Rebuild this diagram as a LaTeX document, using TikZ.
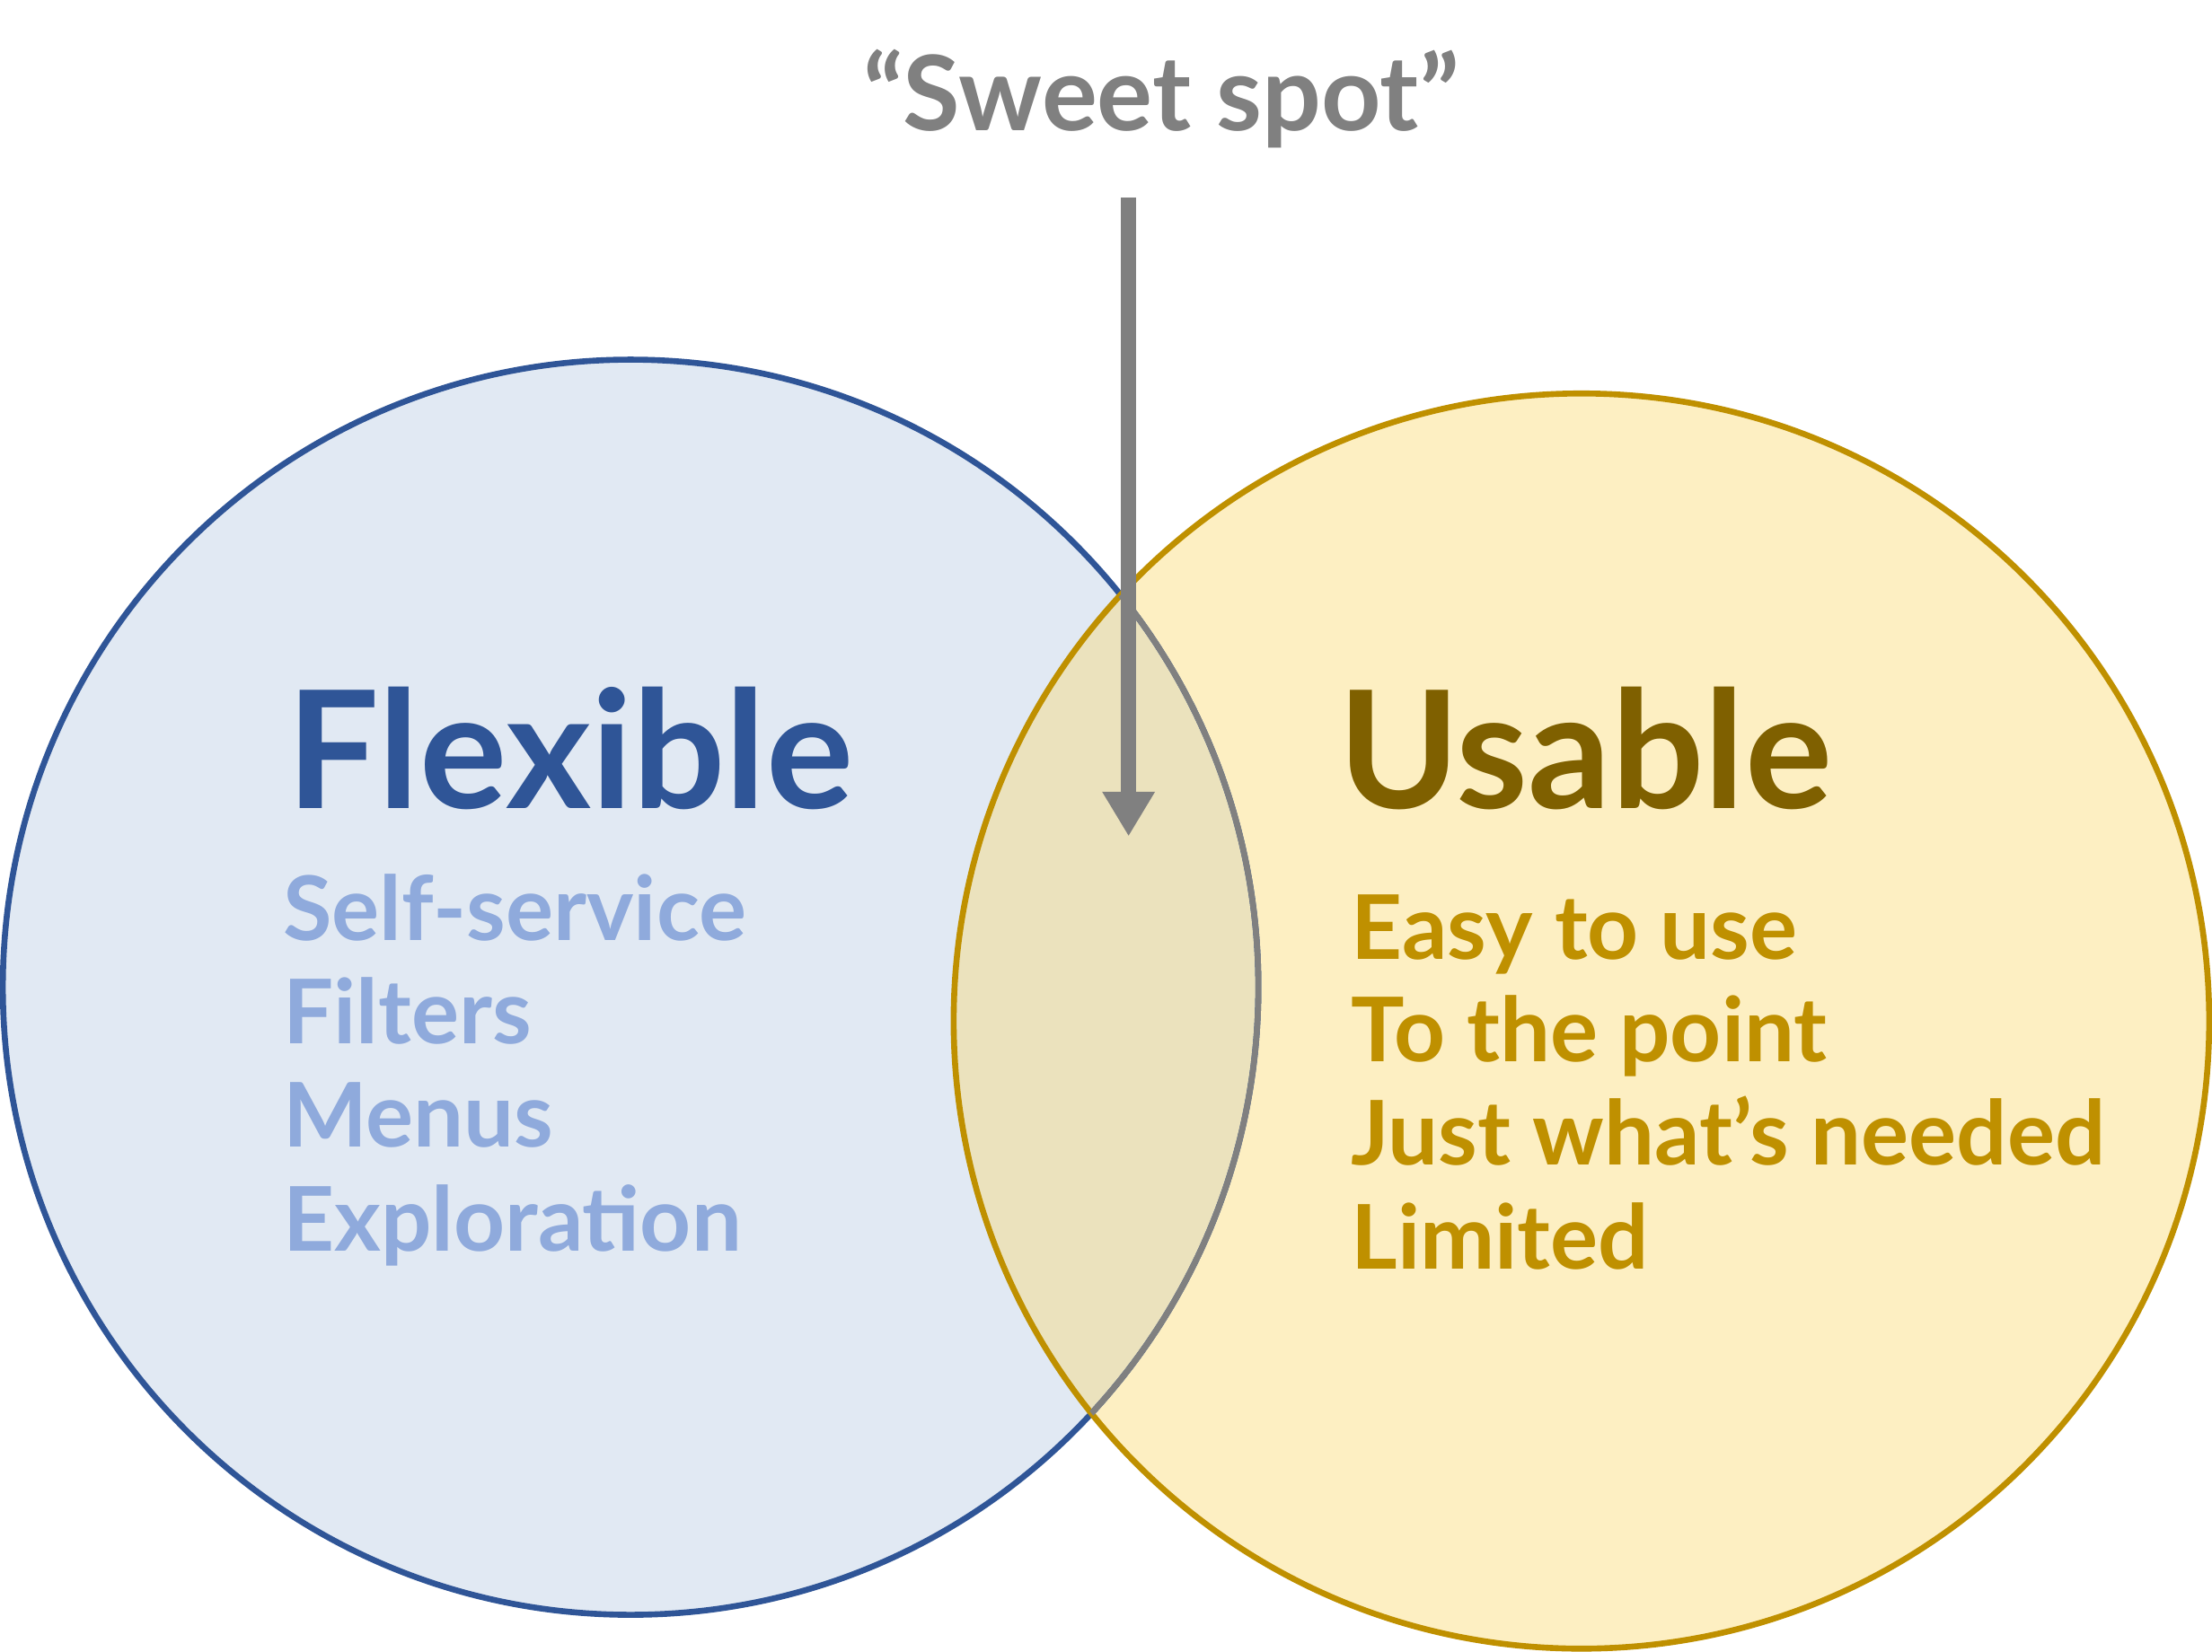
\documentclass[tikz,border=0pt]{standalone}
\usepackage{fontspec}
\setmainfont{Lato}
\usetikzlibrary{arrows.meta}
\definecolor{flexblue}{HTML}{2F5597}
\definecolor{flexlight}{HTML}{8FAADC}
\definecolor{flexfill}{HTML}{E1E9F3}
\definecolor{usedark}{HTML}{7F6000}
\definecolor{usegold}{HTML}{BF9000}
\definecolor{usefill}{HTML}{FDEFC2}
\definecolor{lensfill}{HTML}{EBE2BD}
\definecolor{spotgray}{HTML}{808080}
\begin{document}
\begin{tikzpicture}[
    title/.style={anchor=base west, inner sep=0pt, font=\fontsize{33}{33}\selectfont\bfseries},
    item/.style={anchor=base west, inner sep=0pt, font=\fontsize{18}{18}\selectfont\bfseries}
]
\useasboundingbox (0,0) rectangle (15.68,11.71);
% circles
\fill[flexfill] (4.47,4.71) circle (4.45);
\fill[usefill] (11.21,4.47) circle (4.45);
\begin{scope}
  \clip (11.21,4.47) circle (4.45);
  \fill[lensfill] (4.47,4.71) circle (4.45);
\end{scope}
\draw[flexblue, line width=1.2pt] (4.47,4.71) circle (4.45);
\draw[usegold, line width=1.2pt] (11.21,4.47) circle (4.45);
\begin{scope}
  \clip (11.21,4.47) circle (4.45);
  \draw[spotgray, line width=1.2pt] (4.47,4.71) circle (4.45);
\end{scope}

% sweet spot
\node[inner sep=0pt, text=spotgray, font=\fontsize{21}{21}\selectfont\bfseries] (spot) at (8.23,11.01) {“Sweet spot”};
\coordinate (spottop) at (8.00,10.31);
\coordinate (spotend) at (8.00,5.78);
\draw[spotgray, line width=3pt, -{Triangle[width=10pt,length=9pt]}] (spottop) -- (spotend);

% left labels
\node[title, text=flexblue] (flexible) at (2.03,5.98) {Flexible};
\node[item, text=flexlight] (selfservice) at (2.00,5.04) {Self-service};
\node[item, text=flexlight] (filters) at (2.00,4.31) {Filters};
\node[item, text=flexlight] (menus) at (2.00,3.58) {Menus};
\node[item, text=flexlight] (exploration) at (2.00,2.84) {Exploration};

% right labels
\node[title, text=usedark] (usable) at (9.48,5.98) {Usable};
\node[item, text=usegold] (easy) at (9.57,4.91) {Easy to use};
\node[item, text=usegold] (point) at (9.57,4.18) {To the point};
\node[item, text=usegold] (needed) at (9.57,3.45) {Just what’s needed};
\node[item, text=usegold] (limited) at (9.57,2.71) {Limited};
\end{tikzpicture}
\end{document}
